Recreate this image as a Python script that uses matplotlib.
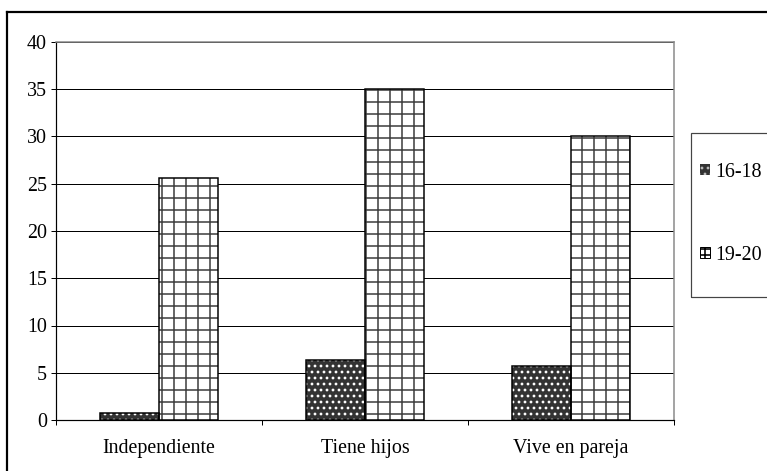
import numpy as np
import matplotlib.pyplot as plt
from matplotlib.patches import Patch, Rectangle
from matplotlib.lines import Line2D

categories = ["Independiente", "Tiene hijos", "Vive en pareja"]
series_names = ["16-18", "19-20"]
values_1618 = [0.7, 6.3, 5.7]
values_1920 = [25.6, 35.0, 30.0]
yticks = [0, 5, 10, 15, 20, 25, 30, 35, 40]

plt.rcParams["font.family"] = ["Liberation Serif", "DejaVu Serif"]
plt.rcParams["hatch.linewidth"] = 1.6

fig = plt.figure(figsize=(767 / 72, 471 / 72), dpi=72)
ax = fig.add_axes([56 / 767, 51 / 471, 618 / 767, 378 / 471])

x = np.arange(len(categories))
w = 0.287

# 16-18: dark fill with white dots
ax.bar(x - w / 2, values_1618, w, color="#333333", edgecolor="white", hatch="..", linewidth=0, zorder=3)
ax.bar(x - w / 2, values_1618, w, fill=False, edgecolor="black", linewidth=1.5, zorder=4)
# 19-20: white with grey grid
ax.bar(x + w / 2, values_1920, w, color="white", edgecolor="#444444", hatch="+", linewidth=0, zorder=3)
ax.bar(x + w / 2, values_1920, w, fill=False, edgecolor="black", linewidth=1.5, zorder=4)

ax.set_xlim(-0.5, 2.5)
ax.set_ylim(0, 40)
ax.set_yticks(yticks)
ax.set_xticks(x)
ax.set_xticklabels(categories)
ax.set_xticks([-0.5, 0.5, 1.5, 2.5], minor=True)
ax.tick_params(axis="x", which="major", length=0, pad=19, labelsize=20)
ax.tick_params(axis="x", which="minor", length=5, width=1, direction="out")
ax.tick_params(axis="y", length=5, width=1, direction="out", pad=4, labelsize=20)

ax.yaxis.grid(True, color="black", linewidth=1)
ax.set_axisbelow(True)
for s in ["top", "right"]:
    ax.spines[s].set_color("#888888")
    ax.spines[s].set_linewidth(1.5)
for s in ["left", "bottom"]:
    ax.spines[s].set_color("black")
    ax.spines[s].set_linewidth(1.2)

# legend
frame = Rectangle((691 / 767, (471 - 297) / 471), 100 / 767, 164 / 471, transform=fig.transFigure,
                  fill=False, edgecolor="#444444", linewidth=1.2, clip_on=False)
fig.add_artist(frame)
handles = [Patch(facecolor="#333333", edgecolor="#bbbbbb", hatch="..", linewidth=0),
           Patch(facecolor="white", edgecolor="black", hatch="++", linewidth=1)]
fig.legend(handles, series_names, loc="upper left", bbox_to_anchor=(700 / 767, (471 - 163) / 471),
           frameon=False, fontsize=20, handlelength=0.48, handleheight=0.48, handletextpad=0.3,
           labelspacing=3.2, borderpad=0, borderaxespad=0)

# outer chart border
fig.add_artist(Line2D([7 / 767, 1.0], [1 - 12 / 471, 1 - 12 / 471], transform=fig.transFigure, color="black", linewidth=2.2))
fig.add_artist(Line2D([7 / 767, 7 / 767], [0, 1 - 12 / 471], transform=fig.transFigure, color="black", linewidth=2.2))

fig.savefig("out.png", dpi=72)
